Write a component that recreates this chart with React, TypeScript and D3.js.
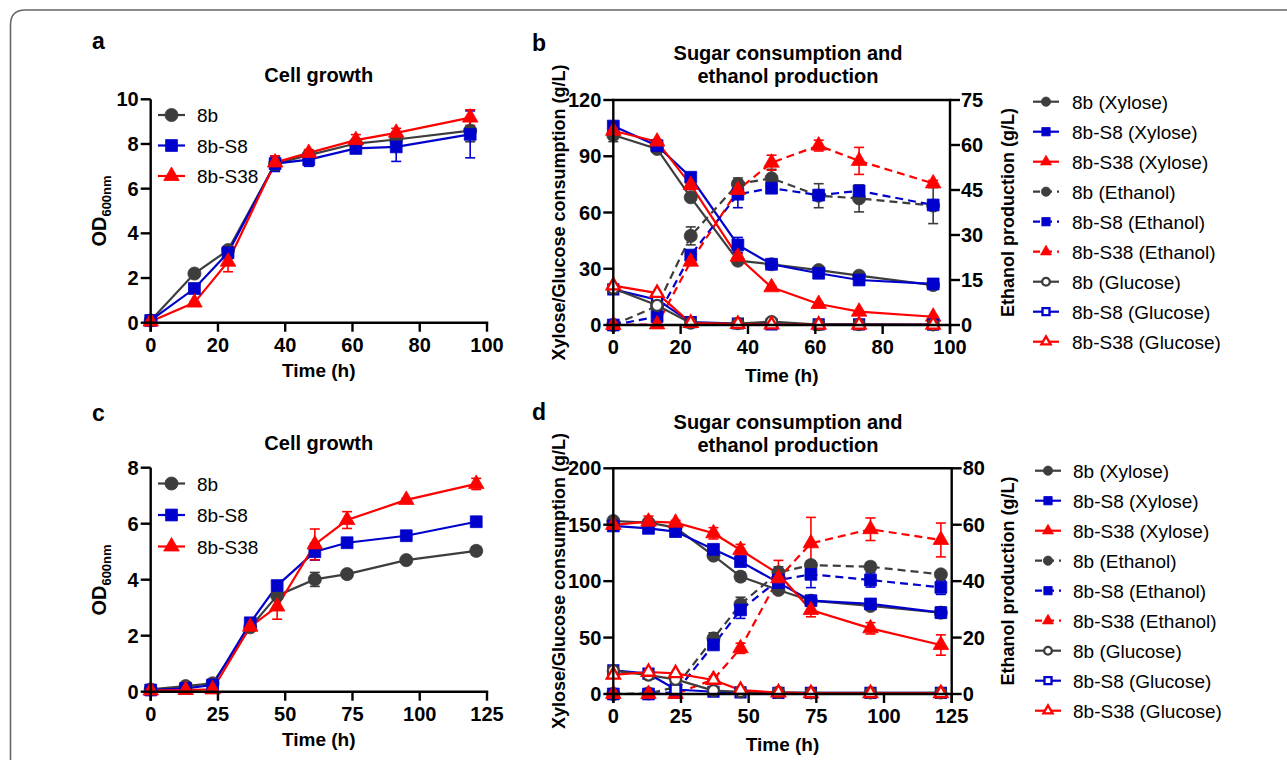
import React from "react";
import * as d3 from "d3";

const FONT = "'Liberation Sans', Arial, Helvetica, sans-serif";
const GRAY = "#3d3d3d";
const BLUE = "#0000cc";
const RED = "#ff0000";

const strainNames = ["8b", "8b-S8", "8b-S38"];
const strainColors = [GRAY, BLUE, RED];
const strainShapes = ["circle", "square", "triangle"];

// panel a: cell growth (xylose)
const hoursAB = [0, 13, 23, 37, 47, 61, 73, 95];
const odA8b = [0.1, 2.2, 3.25, 7.12, 7.5, 8.02, 8.2, 8.6];
const odAS8 = [0.1, 1.53, 3.13, 7.12, 7.3, 7.8, 7.87, 8.43];
const odAS38 = [0.05, 0.9, 2.73, 7.17, 7.6, 8.17, 8.5, 9.18];
const odAErr8b = [0, 0.05, 0.15, 0.3, 0.15, 0.15, 0.2, 0.5];
const odAErrS8 = [0, 0.1, 0.25, 0.35, 0.3, 0.15, 0.65, 1.05];
const odAErrS38 = [0, 0.05, 0.45, 0.3, 0.15, 0.25, 0.2, 0.35];

// panel b: sugars (left axis) and ethanol (right axis)
const xylB8b = [101.3, 93.9, 68.1, 34.3, 32.4, 29.3, 26.3, 21.3];
const xylBS8 = [106.1, 95.6, 78.8, 42.7, 32.4, 27.6, 24, 21.9];
const xylBS38 = [103.6, 97.8, 74.7, 36.4, 20.1, 11.2, 7.1, 4.4];
const xylBErr8b = [3.5, 1, 1, 1, 0.5, 0.5, 0.5, 0.5];
const xylBErrS8 = [1, 1, 1, 4, 1, 0.5, 0.5, 0.5];
const xylBErrS38 = [1, 1, 2.5, 1.5, 0.5, 0.5, 0.5, 0.5];
const ethB8b = [0, 6.3, 29.7, 47, 48.9, 43.1, 42.2, 39.8];
const ethBS8 = [0, 2.8, 23.3, 43.6, 45.6, 43.3, 44.7, 40];
const ethBS38 = [0, 0.2, 21.1, 45, 54.1, 59.8, 54.7, 47.2];
const ethBErr8b = [0, 0.5, 3, 2, 3, 4, 4.5, 6];
const ethBErrS8 = [0, 0.3, 1.5, 4.5, 1.5, 1, 1, 1];
const ethBErrS38 = [0, 0, 1, 3, 2.5, 1.8, 4.5, 1];
const glcB8b = [19.5, 10.5, 1, 0.8, 1.8, 0.2, 0.2, 0.1];
const glcBS8 = [19, 13.5, 1.5, 0.8, 0.3, 0.3, 0.3, 0.2];
const glcBS38 = [21, 17, 1, 0.5, 0.2, 0.1, 0.1, 0.1];

// panel c: cell growth (mixed sugars)
const hoursCD = [0, 13, 23, 37, 47, 61, 73, 95, 121];
const odC8b = [0.08, 0.2, 0.3, 2.3, 3.43, 4.01, 4.2, 4.7, 5.03];
const odCS8 = [0.06, 0.12, 0.24, 2.46, 3.79, 5.0, 5.32, 5.57, 6.07];
const odCS38 = [0.04, 0.06, 0.08, 2.32, 3.04, 5.26, 6.13, 6.85, 7.42];
const odCErr8b = [0, 0.03, 0.05, 0.1, 0.1, 0.25, 0.15, 0.05, 0.15];
const odCErrS8 = [0, 0, 0.05, 0.05, 0.05, 0.3, 0.1, 0.1, 0.15];
const odCErrS38 = [0, 0, 0, 0.05, 0.45, 0.55, 0.3, 0.05, 0.2];

// panel d
const xylD8b = [153.3, 151.8, 147.4, 122.6, 104, 92.2, 82.7, 78, 72.1];
const xylDS8 = [148.9, 146.8, 143.9, 128.2, 117.3, 98.7, 82.7, 79.8, 72.1];
const xylDS38 = [149.8, 152.7, 151.8, 142.4, 127.6, 106.4, 74.4, 58.2, 43.4];
const xylDErr8b = [1, 1, 1, 2, 4, 3, 2, 2, 5];
const xylDErrS8 = [1, 1, 2, 2, 3, 3, 2, 2, 4];
const xylDErrS38 = [1, 5, 2, 5, 5, 12, 6, 5, 9];
const ethD8b = [0, 0.2, 2.4, 19.7, 31.8, 43.1, 45.7, 45.1, 42.4];
const ethDS8 = [0, 0, 0.6, 17.4, 29.8, 40.4, 42.4, 40.4, 37.8];
const ethDS38 = [0, 0, 0, 5.2, 16.2, 41, 53.4, 58.4, 54.6];
const ethDErr8b = [0, 0, 0.5, 2, 2.5, 2, 1.5, 1.5, 1];
const ethDErrS8 = [0, 0, 0.3, 1.5, 3, 2, 4.7, 2.5, 2.5];
const ethDErrS38 = [0, 0, 0, 1, 1.8, 2, 9.2, 4, 6];
const glcD8b = [20.7, 16.8, 13, 3, 2, 1.5, 1, 1, 1];
const glcDS8 = [21, 18, 4, 2, 1.5, 1, 1, 1, 1];
const glcDS38 = [17, 19.5, 18.3, 12.4, 3.5, 1.2, 0.5, 0.5, 0.5];

const ticksX100 = [0, 20, 40, 60, 80, 100];
const ticksX125 = [0, 25, 50, 75, 100, 125];
const ticksOdA = [0, 2, 4, 6, 8, 10];
const ticksOdC = [0, 2, 4, 6, 8];
const ticksSugarB = [0, 30, 60, 90, 120];
const ticksEthB = [0, 15, 30, 45, 60, 75];
const ticksSugarD = [0, 50, 100, 150, 200];
const ticksEthD = [0, 20, 40, 60, 80];

const substrates = ["Xylose", "Ethanol", "Glucose"];

type Series = {
  name: string;
  color: string;
  shape: string;
  open?: boolean;
  dashed?: boolean;
  right?: boolean;
  values: number[];
  errors?: number[];
};

function symbolPath(shape: string, size: number) {
  const type =
    shape === "square" ? d3.symbolSquare : shape === "triangle" ? d3.symbolTriangle : d3.symbolCircle;
  return d3.symbol().type(type).size(size)() as string;
}

function markerSize(shape: string, small: boolean) {
  const k = small ? 0.5 : 1;
  if (shape === "square") return 140 * k;
  if (shape === "triangle") return 105 * k;
  return 135 * k;
}

function Marker({ x, y, s, small = false }: { x: number; y: number; s: Series; small?: boolean }) {
  const size = markerSize(s.shape, small) * (s.open ? 0.7 : 1);
  return (
    <path
      d={symbolPath(s.shape, size)}
      transform={`translate(${x},${y})`}
      fill={s.open ? "#fff" : s.color}
      stroke={s.color}
      strokeWidth={s.open ? 2.3 : 0.8}
    />
  );
}

type PlotProps = {
  left: number;
  right: number;
  top: number;
  bottom: number;
  hours: number[];
  xTicks: number[];
  yTicks: number[];
  yRTicks?: number[];
  series: Series[];
};

function Plot({ left, right, top, bottom, hours, xTicks, yTicks, yRTicks, series }: PlotProps) {
  const x = d3.scaleLinear().domain([0, xTicks[xTicks.length - 1]]).range([left, right]);
  const y = d3.scaleLinear().domain([0, yTicks[yTicks.length - 1]]).range([bottom, top]);
  const yR = yRTicks
    ? d3.scaleLinear().domain([0, yRTicks[yRTicks.length - 1]]).range([bottom, top])
    : y;
  const line = (s: Series) =>
    d3
      .line<number>()
      .x((_, i) => x(hours[i]))
      .y((v) => (s.right ? yR(v) : y(v)))(s.values) as string;

  return (
    <g>
      {series.map((s, k) => (
        <path
          key={"l" + k}
          d={line(s)}
          fill="none"
          stroke={s.color}
          strokeWidth={2.2}
          strokeDasharray={s.dashed ? "8,5" : undefined}
        />
      ))}
      {series.map((s, k) =>
        (s.errors || []).map((e, i) => {
          if (!e) return null;
          const sc = s.right ? yR : y;
          const cx = x(hours[i]);
          const y1 = sc(s.values[i] + e);
          const y2 = sc(Math.max(0, s.values[i] - e));
          return (
            <g key={"e" + k + "-" + i} stroke={s.color} strokeWidth={1.6}>
              <line x1={cx} x2={cx} y1={y1} y2={y2} />
              <line x1={cx - 5} x2={cx + 5} y1={y1} y2={y1} />
              <line x1={cx - 5} x2={cx + 5} y1={y2} y2={y2} />
            </g>
          );
        })
      )}
      {series.map((s, k) =>
        s.values.map((v, i) => (
          <Marker key={"m" + k + "-" + i} x={x(hours[i])} y={s.right ? yR(v) : y(v)} s={s} />
        ))
      )}
      <g stroke="#000" strokeWidth={2.4} fill="none">
        <line x1={left} x2={left} y1={top} y2={bottom + 9} />
        <line x1={left - 1.2} x2={right + 1.2} y1={bottom} y2={bottom} />
        {yRTicks && <line x1={right} x2={right} y1={top} y2={bottom + 9} />}
        {yRTicks && <line x1={left - 1.2} x2={right + 1.2} y1={top} y2={top} />}
        {yTicks.map((t) => (
          <line key={"yt" + t} x1={left - 10} x2={left} y1={y(t)} y2={y(t)} />
        ))}
        {xTicks.map((t) => (
          <line key={"xt" + t} x1={x(t)} x2={x(t)} y1={bottom} y2={bottom + 9} />
        ))}
        {yRTicks &&
          yRTicks.map((t) => (
            <line key={"yr" + t} x1={right} x2={right + 10} y1={yR(t)} y2={yR(t)} />
          ))}
      </g>
      <g fontFamily={FONT} fontWeight="bold" fontSize={20} fill="#000">
        {yTicks.map((t) => (
          <text key={"yl" + t} x={left - 12} y={y(t) + 7} textAnchor="end">
            {t}
          </text>
        ))}
        {xTicks.map((t) => (
          <text key={"xl" + t} x={x(t)} y={bottom + 29} textAnchor="middle">
            {t}
          </text>
        ))}
        {yRTicks &&
          yRTicks.map((t) => (
            <text key={"rl" + t} x={right + 11} y={yR(t) + 7} textAnchor="start">
              {t}
            </text>
          ))}
      </g>
    </g>
  );
}

function Legend({
  series,
  x1,
  x2,
  tx,
  y0,
  dy,
  small,
}: {
  series: Series[];
  x1: number;
  x2: number;
  tx: number;
  y0: number;
  dy: number;
  small: boolean;
}) {
  return (
    <g fontFamily={FONT} fontSize={19} fill="#000">
      {series.map((s, i) => {
        const yy = y0 + i * dy;
        return (
          <g key={i}>
            <line
              x1={x1}
              x2={x2}
              y1={yy}
              y2={yy}
              stroke={s.color}
              strokeWidth={2.2}
              strokeDasharray={s.dashed ? "7,5" : undefined}
            />
            <Marker x={(x1 + x2) / 2} y={yy} s={s} small={small} />
            <text x={tx} y={yy + 7}>
              {s.name}
            </text>
          </g>
        );
      })}
    </g>
  );
}

function growthSeries(vals: number[][], errs: number[][]): Series[] {
  return strainNames.map((n, i) => ({
    name: n,
    color: strainColors[i],
    shape: strainShapes[i],
    values: vals[i],
    errors: errs[i],
  }));
}

function sugarSeries(
  xyl: number[][],
  xylErr: number[][],
  eth: number[][],
  ethErr: number[][],
  glc: number[][]
): Series[] {
  const out: Series[] = [];
  strainNames.forEach((n, i) =>
    out.push({ name: `${n} (${substrates[0]})`, color: strainColors[i], shape: strainShapes[i], values: xyl[i], errors: xylErr[i] })
  );
  strainNames.forEach((n, i) =>
    out.push({ name: `${n} (${substrates[1]})`, color: strainColors[i], shape: strainShapes[i], dashed: true, right: true, values: eth[i], errors: ethErr[i] })
  );
  strainNames.forEach((n, i) =>
    out.push({ name: `${n} (${substrates[2]})`, color: strainColors[i], shape: strainShapes[i], open: true, values: glc[i] })
  );
  return out;
}

// glucose symbols: square underneath, open circle over it, small triangle on top
const drawOrder = [0, 1, 2, 3, 4, 5, 7, 6, 8];

export default function App() {
  const seriesA = growthSeries([odA8b, odAS8, odAS38], [odAErr8b, odAErrS8, odAErrS38]);
  const seriesC = growthSeries([odC8b, odCS8, odCS38], [odCErr8b, odCErrS8, odCErrS38]);
  const seriesB = sugarSeries(
    [xylB8b, xylBS8, xylBS38],
    [xylBErr8b, xylBErrS8, xylBErrS38],
    [ethB8b, ethBS8, ethBS38],
    [ethBErr8b, ethBErrS8, ethBErrS38],
    [glcB8b, glcBS8, glcBS38]
  );
  const seriesD = sugarSeries(
    [xylD8b, xylDS8, xylDS38],
    [xylDErr8b, xylDErrS8, xylDErrS38],
    [ethD8b, ethDS8, ethDS38],
    [ethDErr8b, ethDErrS8, ethDErrS38],
    [glcD8b, glcDS8, glcDS38]
  );

  const bold = { fontFamily: FONT, fontWeight: "bold" as const, fill: "#000" };

  return (
    <div style={{ position: "absolute", left: 0, top: 0 }}>
      <svg width={1287} height={760} style={{ display: "block", background: "#fff" }}>
        <path d="M10.5,760 V25 Q10.5,10 25,10 H1287" fill="none" stroke="#666" strokeWidth={1.6} />

        <text x={92} y={49} fontSize={23} {...bold}>a</text>
        <text x={532} y={51} fontSize={23} {...bold}>b</text>
        <text x={92} y={421} fontSize={23} {...bold}>c</text>
        <text x={532} y={420} fontSize={23} {...bold}>d</text>

        {/* panel a */}
        <text x={318.8} y={82} textAnchor="middle" fontSize={20} {...bold}>Cell growth</text>
        <Plot left={150.7} right={487} top={99.3} bottom={322.7} hours={hoursAB} xTicks={ticksX100} yTicks={ticksOdA} series={seriesA} />
        <Legend series={seriesA} x1={158} x2={185} tx={197} y0={115} dy={30.5} small={false} />
        <text x={318.8} y={377} textAnchor="middle" fontSize={19} {...bold}>Time (h)</text>
        <text transform="translate(106,211) rotate(-90)" textAnchor="middle" fontSize={20} {...bold}>
          OD<tspan fontSize={13} dy={5}>600nm</tspan>
        </text>

        {/* panel b */}
        <text x={788} y={60} textAnchor="middle" fontSize={20} {...bold}>Sugar consumption and</text>
        <text x={788} y={83} textAnchor="middle" fontSize={20} {...bold}>ethanol production</text>
        <Plot left={613.3} right={950} top={100} bottom={325} hours={hoursAB} xTicks={ticksX100} yTicks={ticksSugarB} yRTicks={ticksEthB} series={drawOrder.map((i) => seriesB[i])} />
        <Legend series={seriesB} x1={1033} x2={1059} tx={1072} y0={101.7} dy={30} small={true} />
        <text x={781.7} y={382} textAnchor="middle" fontSize={19} {...bold}>Time (h)</text>
        <text transform="translate(565,212.5) rotate(-90)" textAnchor="middle" fontSize={18} {...bold}>
          Xylose/Glucose consumption (g/L)
        </text>
        <text transform="translate(1014,212.5) rotate(-90)" textAnchor="middle" fontSize={18} {...bold}>
          Ethanol production (g/L)
        </text>

        {/* panel c */}
        <text x={318.8} y={450} textAnchor="middle" fontSize={20} {...bold}>Cell growth</text>
        <Plot left={150.7} right={487} top={467.7} bottom={691.7} hours={hoursCD} xTicks={ticksX125} yTicks={ticksOdC} series={seriesC} />
        <Legend series={seriesC} x1={158} x2={185} tx={197} y0={483.5} dy={31.5} small={false} />
        <text x={318.8} y={746} textAnchor="middle" fontSize={19} {...bold}>Time (h)</text>
        <text transform="translate(106,580) rotate(-90)" textAnchor="middle" fontSize={20} {...bold}>
          OD<tspan fontSize={13} dy={5}>600nm</tspan>
        </text>

        {/* panel d */}
        <text x={788} y={429} textAnchor="middle" fontSize={20} {...bold}>Sugar consumption and</text>
        <text x={788} y={452} textAnchor="middle" fontSize={20} {...bold}>ethanol production</text>
        <Plot left={613.3} right={951.7} top={468.3} bottom={694} hours={hoursCD} xTicks={ticksX125} yTicks={ticksSugarD} yRTicks={ticksEthD} series={drawOrder.map((i) => seriesD[i])} />
        <Legend series={seriesD} x1={1035} x2={1061} tx={1073} y0={470.7} dy={30} small={true} />
        <text x={782.5} y={751} textAnchor="middle" fontSize={19} {...bold}>Time (h)</text>
        <text transform="translate(565,581) rotate(-90)" textAnchor="middle" fontSize={18} {...bold}>
          Xylose/Glucose consumption (g/L)
        </text>
        <text transform="translate(1014,581) rotate(-90)" textAnchor="middle" fontSize={18} {...bold}>
          Ethanol production (g/L)
        </text>
      </svg>
    </div>
  );
}
